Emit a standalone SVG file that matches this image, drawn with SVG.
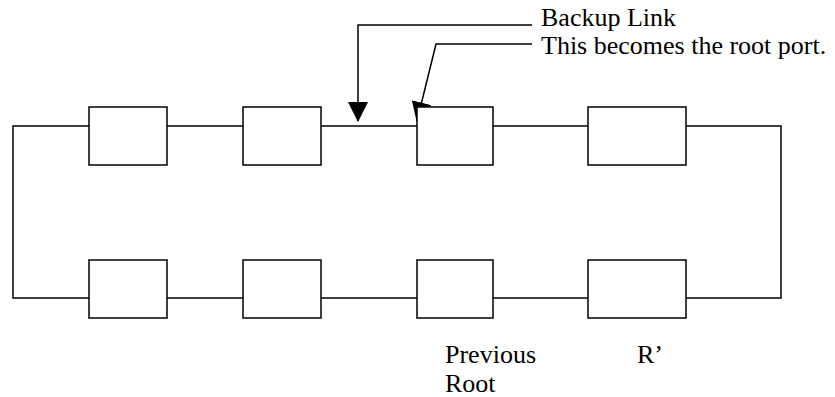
<svg xmlns="http://www.w3.org/2000/svg" width="835" height="397" viewBox="0 0 835 397">
<style>
.box{fill:#fff;stroke:#000;stroke-width:1.5}
.ln{fill:none;stroke:#000;stroke-width:1.5}
.t{font-size:26px;fill:#000}
</style>
<defs>
<marker id="ah" markerWidth="20" markerHeight="20" viewBox="0 0 20 20" refX="19" refY="10" orient="auto" markerUnits="userSpaceOnUse">
<path d="M0,0 L20,10 L0,20 Z" fill="#000"/>
</marker>
</defs>
<rect width="835" height="397" fill="#fff"/>
<g id="connectors">
<polyline class="ln" points="89,126 13,126 13,298 89,298"/>
<line class="ln" x1="167" y1="126" x2="243" y2="126"/>
<line class="ln" x1="321" y1="126" x2="417" y2="126"/>
<line class="ln" x1="493" y1="126" x2="588" y2="126"/>
<polyline class="ln" points="686,126 781,126 781,298 686,298"/>
<line class="ln" x1="167" y1="298" x2="243" y2="298"/>
<line class="ln" x1="321" y1="298" x2="417" y2="298"/>
<line class="ln" x1="493" y1="298" x2="588" y2="298"/>
<polyline class="ln" points="532,25 358,25 358,121" marker-end="url(#ah)"/>
<polyline class="ln" points="532,44 436,44 417,121" marker-end="url(#ah)"/>
</g>
<g id="t1"><rect class="box" x="89" y="107" width="78" height="58"/></g>
<g id="t2"><rect class="box" x="243" y="107" width="78" height="58"/></g>
<g id="t3"><rect class="box" x="417" y="107" width="76" height="58"/></g>
<g id="t4"><rect class="box" x="588" y="107" width="98" height="58"/></g>
<g id="b1"><rect class="box" x="89" y="260" width="78" height="58"/></g>
<g id="b2"><rect class="box" x="243" y="260" width="78" height="58"/></g>
<g id="b3"><rect class="box" x="417" y="260" width="76" height="58"/></g>
<g id="b4"><rect class="box" x="588" y="260" width="98" height="58"/></g>
<g id="labels" font-family="'Liberation Serif', 'DejaVu Serif', serif">
<text class="t" x="541" y="26">Backup Link</text>
<text class="t" x="541" y="54">This becomes the root port.</text>
<text class="t" x="445" y="363">Previous</text>
<text class="t" x="445" y="392">Root</text>
<text class="t" x="637" y="363">R’</text>
</g>
</svg>
